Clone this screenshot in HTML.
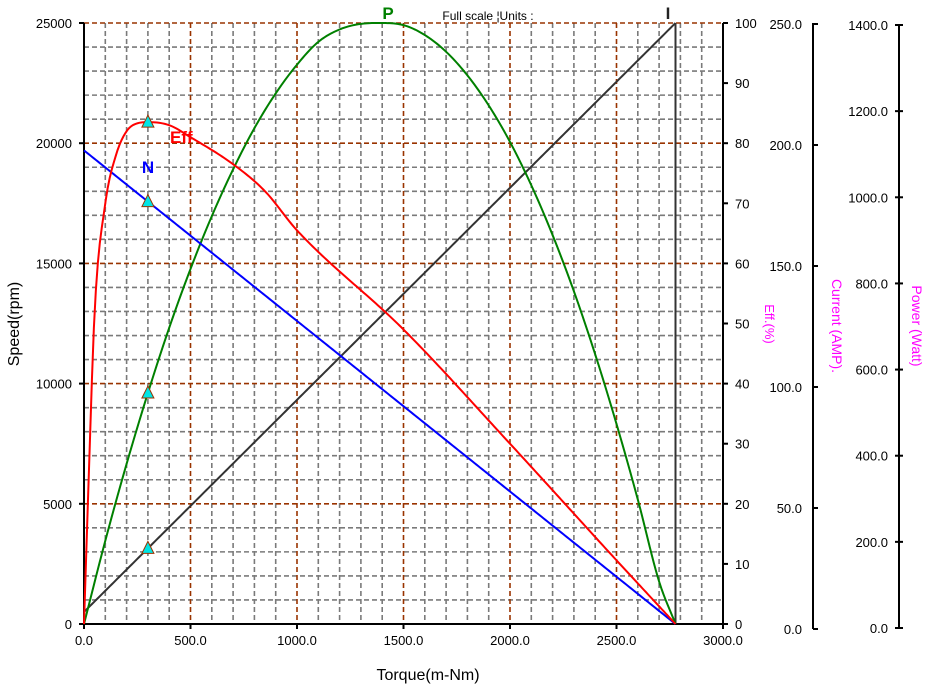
<!DOCTYPE html>
<html><head><meta charset="utf-8"><style>
body{margin:0;background:#fff;}
svg{display:block;font-family:"Liberation Sans",Arial,sans-serif;}
</style></head><body>
<svg id="chart" width="926" height="689" viewBox="0 0 926 689" xmlns="http://www.w3.org/2000/svg"></svg>
<script>
const torqueTicks=[0,500,1000,1500,2000,2500,3000];
const speedTicks=[0,5000,10000,15000,20000,25000];
const effTicks=[0,10,20,30,40,50,60,70,80,90,100];
const currentTicks=[0,50,100,150,200,250];
const powerTicks=[0,200,400,600,800,1000,1200,1400];
const speedT=[0,2777];
const speedV=[19700,0];
const currentT=[0,2777];
const currentV=[5,250];
const powerT=[0,100,200,300,400,500,600,700,800,900,1000,1100,1200,1300,1388,1500,1600,1700,1800,1900,2000,2100,2200,2300,2400,2500,2600,2700,2777];
const powerV=[0,194,373,538,690,827,950,1059,1155,1236,1303,1356,1385,1398,1400,1395,1372,1333,1278,1208,1123,1022,906,775,628,466,290,99,0];
const effT=[0,20,50,100,150,200,250,300,400,500,700,850,1000,1500,2000,2500,2777];
const effV=[0,22,52,70,78,82,83.3,83.5,83,81,76.5,72,65.5,49,30,10.6,0];
const markerT=300;

const svg=document.getElementById('chart');
const NS='http://www.w3.org/2000/svg';
const X0=84,X1=723,Y0=624,Y1=23;
const xS=t=>X0+(t/3000)*(X1-X0);
const yS=v=>Y0-(v/25000)*(Y0-Y1);
const yE=v=>Y0-(v/100)*(Y0-Y1);
const yC=v=>Y0-(v/250)*(Y0-Y1);
const yP=v=>Y0-(v/1400)*(Y0-Y1);
function mk(tag,attrs,parent){const e=document.createElementNS(NS,tag);for(const k in attrs)e.setAttribute(k,attrs[k]);(parent||svg).appendChild(e);return e;}
function txt(s,attrs){const e=mk('text',attrs);e.textContent=s;return e;}
function interp(xs,ys,t){const n=xs.length;if(n===2)return ys[0]+(ys[1]-ys[0])*(t-xs[0])/(xs[1]-xs[0]);
 const d=[],m=[];for(let i=0;i<n-1;i++)d.push((ys[i+1]-ys[i])/(xs[i+1]-xs[i]));
 m[0]=d[0];m[n-1]=d[n-2];
 for(let i=1;i<n-1;i++){m[i]=(d[i-1]*d[i]<=0)?0:(d[i-1]+d[i])/2;}
 for(let i=0;i<n-1;i++){if(d[i]===0){m[i]=0;m[i+1]=0;continue;}const a=m[i]/d[i],b=m[i+1]/d[i],s=a*a+b*b;if(s>9){const tt=3/Math.sqrt(s);m[i]=tt*a*d[i];m[i+1]=tt*b*d[i];}}
 let i=0;while(i<n-2&&t>xs[i+1])i++;
 const h=xs[i+1]-xs[i],u=(t-xs[i])/h,u2=u*u,u3=u2*u;
 return (2*u3-3*u2+1)*ys[i]+(u3-2*u2+u)*h*m[i]+(-2*u3+3*u2)*ys[i+1]+(u3-u2)*h*m[i+1];}

const grid=mk('g',{});


for(let t=100;t<3000;t+=100){if(t%500===0)continue;mk('line',{x1:xS(t),x2:xS(t),y1:Y1,y2:Y0,stroke:'#7a7a7a','stroke-width':1.6,'stroke-dasharray':'5,3'},grid);}
for(let v=1000;v<25000;v+=1000){if(v%5000===0)continue;mk('line',{x1:X0,x2:X1,y1:yS(v),y2:yS(v),stroke:'#7a7a7a','stroke-width':1.6,'stroke-dasharray':'5,3'},grid);}
for(let t=500;t<3000;t+=500){mk('line',{x1:xS(t),x2:xS(t),y1:Y1,y2:Y0,stroke:'#993300','stroke-width':1.6,'stroke-dasharray':'5,3'},grid);}
for(let v=5000;v<=25000;v+=5000){mk('line',{x1:X0,x2:X1,y1:yS(v),y2:yS(v),stroke:'#993300','stroke-width':1.6,'stroke-dasharray':'5,3'},grid);}

const ax=mk('g',{stroke:'#000','stroke-width':2});


mk('line',{x1:X0,x2:X0,y1:Y1,y2:Y0},ax);
mk('line',{x1:X0,x2:X1,y1:Y0,y2:Y0},ax);
mk('line',{x1:X1,x2:X1,y1:Y1,y2:Y0},ax);
const CX=813,PX=899;
mk('line',{x1:CX,x2:CX,y1:Y1,y2:Y0+5},ax);
mk('line',{x1:PX,x2:PX,y1:Y1+2,y2:Y0+4},ax);
const FS=13;
torqueTicks.forEach(t=>{mk('line',{x1:xS(t),x2:xS(t),y1:Y0,y2:Y0+5},ax);
 const e=txt(t.toFixed(1),{x:xS(t),y:645,'font-size':FS,'text-anchor':'middle'});
 });
speedTicks.forEach(v=>{mk('line',{x1:X0-5,x2:X0,y1:yS(v),y2:yS(v)},ax);
 const e=txt(String(v),{x:72,y:yS(v)+5,'font-size':FS,'text-anchor':'end'});
 });
effTicks.forEach(v=>{mk('line',{x1:X1,x2:X1+5,y1:yE(v),y2:yE(v)},ax);
 const e=txt(String(v),{x:735,y:yE(v)+5,'font-size':FS});
 });
currentTicks.forEach(v=>{const y=Y0+5-(v/250)*(Y0+5-Y1-1);mk('line',{x1:CX,x2:CX+5,y1:y,y2:y},ax);
 const e=txt(v.toFixed(1),{x:802,y:y+5,'font-size':FS,'text-anchor':'end'});
 });
powerTicks.forEach(v=>{const y=Y0+4-(v/1400)*(Y0+4-Y1-2);mk('line',{x1:PX-4,x2:PX+4,y1:y,y2:y},ax);
 const e=txt(v.toFixed(1),{x:888,y:y+5,'font-size':FS,'text-anchor':'end'});
 });

function series(ts,vs,yf,color,name,w){const n=300,maxT=ts[ts.length-1];let d='';
 for(let i=0;i<=n;i++){const t=ts[0]+(maxT-ts[0])*i/n;d+=(i?'L':'M')+xS(t).toFixed(2)+','+yf(interp(ts,vs,t)).toFixed(2);}
 const p=mk('path',{d:d,fill:'none',stroke:color,'stroke-width':w||2});
 }
series(currentT,currentV,yC,'#333333','current-line');
mk('line',{x1:xS(currentT[1]),x2:xS(currentT[1]),y1:Y1,y2:Y0,stroke:'#333','stroke-width':2});
series(powerT,powerV,yP,'#008000','power-curve');
series(speedT,speedV,yS,'#0000ff','speed-line');
series(effT,effV,yE,'#ff0000','efficiency-curve');

[[effT,effV,yE],[speedT,speedV,yS],[powerT,powerV,yP],[currentT,currentV,yC]].forEach(([ts,vs,yf])=>{
 const x=xS(markerT),y=yf(interp(ts,vs,markerT));
 const m=mk('polygon',{points:`${x},${y-7} ${x-6},${y+5} ${x+6},${y+5}`,fill:'#00e5e5',stroke:'#993300','stroke-width':1});
 });

function lab(s,a,name){const e=txt(s,a);}
lab('P',{x:388,y:19,'font-size':17,'font-weight':'bold',fill:'#008000','text-anchor':'middle'},'power-label');
lab('I',{x:668,y:19,'font-size':17,'font-weight':'bold',fill:'#222','text-anchor':'middle'},'current-label');
lab('Eff',{x:170,y:143,'font-size':17,'font-weight':'bold',fill:'#ff0000'},'eff-label');
lab('N',{x:148,y:173,'font-size':17,'font-weight':'bold',fill:'#0000ff','text-anchor':'middle'},'speed-label');
lab('Full scale ¦Units :',{x:488,y:20,'font-size':12,'text-anchor':'middle'},'full-scale-units');
lab('Torque(m-Nm)',{x:428,y:680,'font-size':16,'text-anchor':'middle'},'x-axis-title');
lab('Speed(rpm)',{x:19,y:324,'font-size':16,'text-anchor':'middle',transform:'rotate(-90 19 324)'},'speed-axis-title');
lab('Eff.(%)',{x:765,y:324,'font-size':13,fill:'#ff00ff','text-anchor':'middle',transform:'rotate(90 765 324)'},'eff-axis-title');
lab('Current (AMP).',{x:832,y:326,'font-size':14,fill:'#ff00ff','text-anchor':'middle',transform:'rotate(90 832 326)'},'current-axis-title');
lab('Power (Watt)',{x:912,y:326,'font-size':14,fill:'#ff00ff','text-anchor':'middle',transform:'rotate(90 912 326)'},'power-axis-title');
</script>
</body></html>
